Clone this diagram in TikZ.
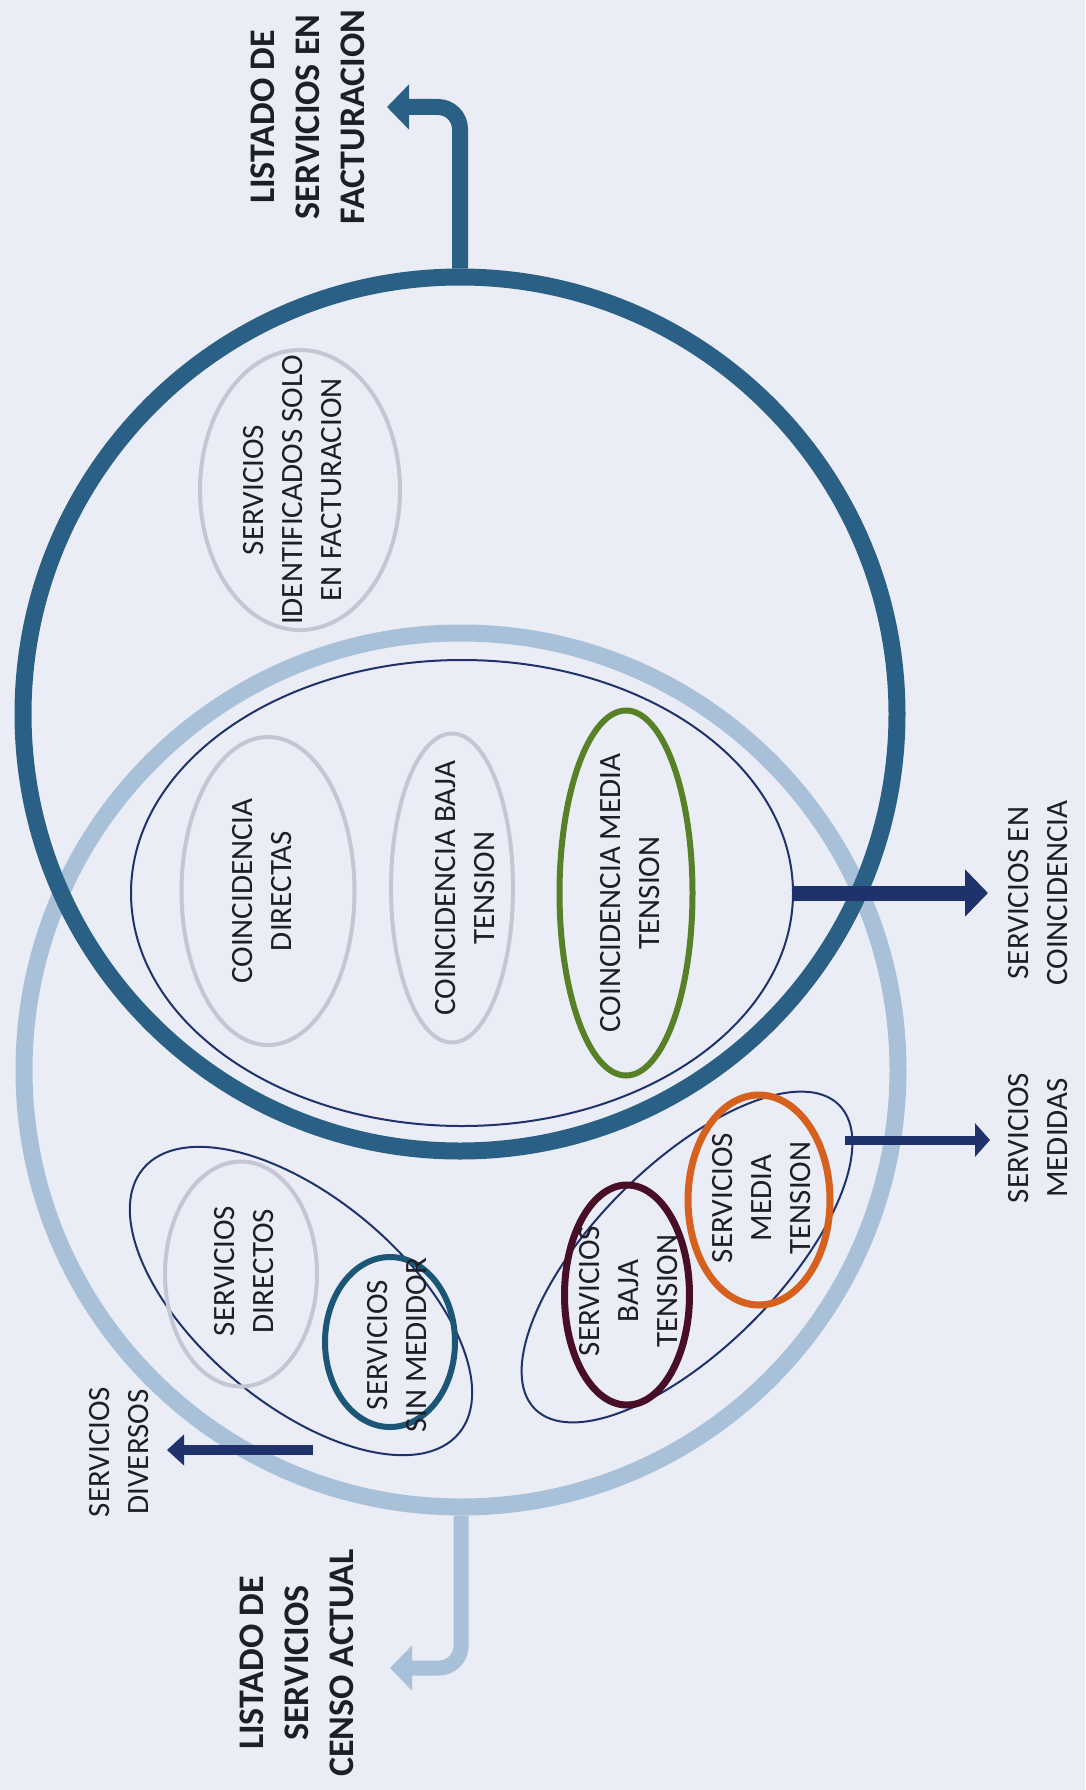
\documentclass[tikz,border=0pt]{standalone}
\usepackage{fontspec}
\setmainfont{Carlito}
\usetikzlibrary{shapes.geometric,arrows.meta}
\definecolor{azulfact}{RGB}{42,96,134}
\definecolor{azulcenso}{RGB}{168,192,216}
\definecolor{marino}{RGB}{31,50,107}
\definecolor{gris}{RGB}{196,198,212}
\definecolor{verde}{RGB}{88,128,38}
\definecolor{guinda}{RGB}{72,14,38}
\definecolor{naranja}{RGB}{214,96,30}
\definecolor{petroleo}{RGB}{28,86,118}
\definecolor{fondo}{RGB}{234,236,246}
\definecolor{tinta}{RGB}{30,30,38}

\begin{document}
\begin{tikzpicture}[x=1pt, y=-1pt,
                    conjunto/.style={ellipse, draw, inner sep=0pt},
                    grupo/.style={conjunto, draw=marino, line width=2pt},
                    sub/.style={conjunto, draw=gris, line width=4pt},
                    txt/.style={rotate=90, align=center, inner sep=0pt, text=tinta,
                                font=\fontsize{31}{39}\selectfont},
                    titulo/.style={txt, font=\fontsize{36}{45}\selectfont\bfseries},
                    flecha/.style={draw=marino, line width=#1pt}]
  \fill[fondo] (0,0) rectangle (1085,1790);

  \node[circle, draw=azulcenso, line width=17pt, minimum size=874pt, inner sep=0pt] (censo) at (461,1070) {};
  \node[circle, draw=azulfact, line width=17pt, minimum size=874pt, inner sep=0pt] (fact) at (460,714) {};

  \coordinate (fin-fact) at (387,107);
  \coordinate (fin-censo) at (390,1668);
  \draw[draw=azulfact, line width=16pt, rounded corners=22pt,
        -{Triangle[length=22pt, width=44pt]}] (fact.north) |- (fin-fact);
  \draw[draw=azulcenso, line width=15pt, rounded corners=22pt,
        -{Triangle[length=22pt, width=44pt]}] (censo.south) |- (fin-censo);

  \node[sub, minimum width=200pt, minimum height=280pt] (solo) at (300,490) {};
  \node[txt] (t-solo) at (293,490) {SERVICIOS\\IDENTIFICADOS SOLO\\EN FACTURACION};

  \node[grupo, minimum width=662pt, minimum height=466pt] (coinc) at (462,893) {};
  \node[sub, minimum width=173pt, minimum height=308pt] (c-dir) at (268,891) {};
  \node[sub, minimum width=122pt, minimum height=309pt] (c-baja) at (452,888) {};
  \node[conjunto, draw=verde, line width=6pt, minimum width=133pt, minimum height=365pt] (c-media) at (626,893) {};
  \node[txt] (t-cdir) at (262,891) {COINCIDENCIA\\DIRECTAS};
  \node[txt] (t-cbaja) at (465,888) {COINCIDENCIA BAJA\\TENSION};
  \node[txt] (t-cmedia) at (630,893) {COINCIDENCIA MEDIA\\TENSION};

  \node[grupo, rotate=-40, minimum width=412pt, minimum height=206pt] (diversos) at (301,1301) {};
  \node[sub, minimum width=152pt, minimum height=225pt] (s-dir) at (241,1274) {};
  \node[conjunto, draw=petroleo, line width=6pt, minimum width=130pt, minimum height=170pt] (s-sin) at (390,1342) {};
  \node[txt] (t-sdir) at (244,1271) {SERVICIOS\\DIRECTOS};
  \node[txt] (t-ssin) at (397,1345) {SERVICIOS\\SIN MEDIDOR};

  \node[grupo, rotate=45, minimum width=430pt, minimum height=184pt] (medidas) at (687,1257) {};
  \node[conjunto, draw=guinda, line width=7pt, minimum width=125pt, minimum height=220pt] (s-baja) at (627,1295) {};
  \node[conjunto, draw=naranja, line width=7pt, minimum width=142pt, minimum height=210pt] (s-media) at (759,1200) {};
  \node[txt] (t-sbaja) at (629,1291) {SERVICIOS\\BAJA\\TENSION};
  \node[txt] (t-smedia) at (762,1198) {SERVICIOS\\MEDIA\\TENSION};

  \coordinate (fin-coinc) at (988,893);
  \coordinate (sal-med) at (845,1140);
  \coordinate (fin-med) at (990,1140);
  \coordinate (sal-div) at (313,1450);
  \coordinate (fin-div) at (167,1450);
  \draw[flecha=15, -{Triangle[length=23pt, width=46pt]}] (coinc.east) -- (fin-coinc);
  \draw[flecha=9, -{Triangle[length=15pt, width=33pt]}] (sal-med) -- (fin-med);
  \draw[flecha=10, -{Triangle[length=17pt, width=30pt]}] (sal-div) -- (fin-div);

  \node[txt] (l-coinc) at (1038,893) {SERVICIOS EN\\COINCIDENCIA};
  \node[txt] (l-med) at (1038,1138) {SERVICIOS\\MEDIDAS};
  \node[txt] (l-div) at (119,1452) {SERVICIOS\\DIVERSOS};
  \node[titulo] (l-fact) at (308,117) {LISTADO DE\\SERVICIOS EN\\FACTURACION};
  \node[titulo] (l-censo) at (297,1663) {LISTADO DE\\SERVICIOS\\CENSO ACTUAL};
\end{tikzpicture}
\end{document}
